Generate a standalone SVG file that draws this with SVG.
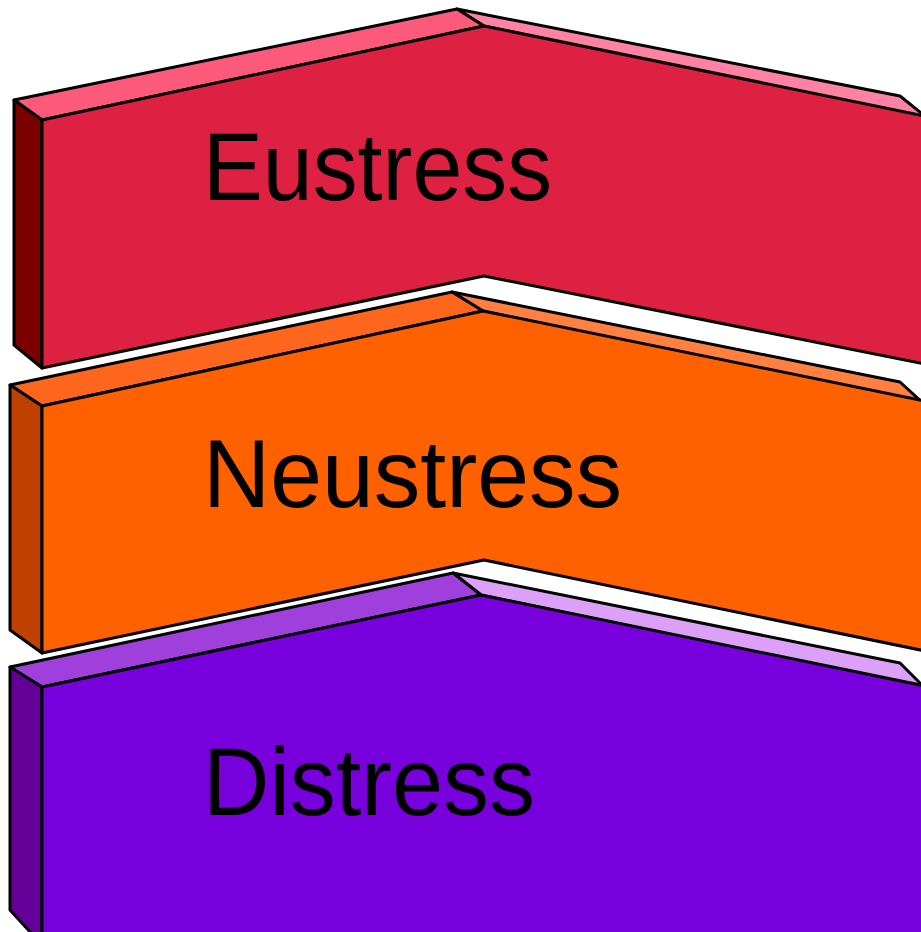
<svg xmlns="http://www.w3.org/2000/svg" width="921" height="932" viewBox="0 0 921 932">
<style>
.f{stroke:#000;stroke-width:3;stroke-linejoin:round}
.t{font-family:"Liberation Sans",Arial,sans-serif;font-size:96px;fill:#000}
</style>
<rect width="921" height="932" fill="#fff"/>
<g id="connectors"></g>
<g id="eustress">
<polygon class="f" fill="#FF82A4" points="457,9 900,96 930,120 484,26"/>
<polygon class="f" fill="#FD5A7B" points="14,100 457,9 484,26 42,120"/>
<polygon class="f" fill="#7B0000" points="14,100 42,120 42,368 14,345"/>
<polygon class="f" fill="#DE2042" points="42,120 484,26 930,117 930,365 484,276 42,368"/>
<text class="t" x="203" y="200" textLength="349" lengthAdjust="spacingAndGlyphs">Eustress</text>
</g>
<g id="neustress">
<polygon class="f" fill="#FF8040" points="452,292 900,382 925,405 483,311"/>
<polygon class="f" fill="#FE661E" points="10,385 452,292 483,311 42,406"/>
<polygon class="f" fill="#C04000" points="10,385 42,406 42,653 10,630"/>
<polygon class="f" fill="#FF6000" points="42,406 483,311 930,402 930,652 484,560 42,653"/>
<text class="t" x="203" y="507" textLength="419" lengthAdjust="spacingAndGlyphs">Neustress</text>
</g>
<g id="distress">
<polygon class="f" fill="#DDA0F8" points="453,573 900,663 925,688 481,595"/>
<polygon class="f" fill="#A040DC" points="10,667 453,573 481,595 42,687"/>
<polygon class="f" fill="#640098" points="10,667 42,687 42,945 10,910"/>
<polygon class="f" fill="#7800DC" points="42,687 481,595 930,687 930,945 42,945"/>
<text class="t" x="203" y="815" textLength="332" lengthAdjust="spacingAndGlyphs">Distress</text>
</g>
</svg>
